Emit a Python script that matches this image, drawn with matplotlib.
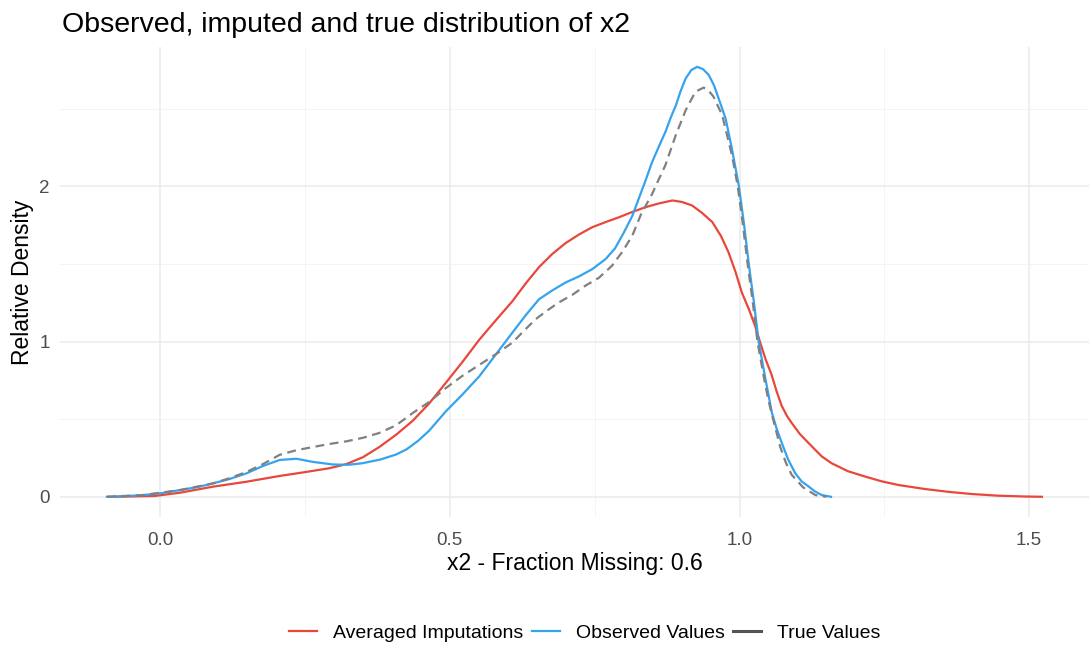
import numpy as np
import matplotlib
matplotlib.use("Agg")
import matplotlib.pyplot as plt
from matplotlib.lines import Line2D

plt.rcParams["font.family"] = ["Liberation Sans", "DejaVu Sans"]

# ── data ────────────────────────────────────────────────
imp_x = [-0.078, -0.01, 0.034, 0.091, 0.149, 0.206, 0.252, 0.292, 0.321, 0.35,
         0.378, 0.407, 0.436, 0.464, 0.493, 0.522, 0.551, 0.58, 0.608, 0.631,
         0.654, 0.677, 0.70, 0.723, 0.746, 0.769, 0.792, 0.815, 0.838, 0.861,
         0.884, 0.90, 0.918, 0.935, 0.953, 0.968, 0.981, 0.993, 1.004, 1.016,
         1.027, 1.036, 1.045, 1.055, 1.064, 1.073, 1.082, 1.09, 1.104, 1.119,
         1.142, 1.159, 1.187, 1.217, 1.245, 1.274, 1.32, 1.36, 1.40, 1.446,
         1.49, 1.522]
imp_y = [0.0, 0.005, 0.026, 0.065, 0.097, 0.134, 0.16, 0.184, 0.21, 0.255,
         0.32, 0.399, 0.49, 0.6, 0.734, 0.87, 1.013, 1.14, 1.26, 1.375,
         1.48, 1.565, 1.635, 1.69, 1.737, 1.77, 1.801, 1.835, 1.866, 1.89,
         1.909, 1.90, 1.877, 1.83, 1.77, 1.68, 1.575, 1.45, 1.316, 1.21,
         1.10, 0.99, 0.886, 0.79, 0.68, 0.585, 0.52, 0.476, 0.405, 0.347,
         0.26, 0.216, 0.165, 0.13, 0.10, 0.076, 0.05, 0.032, 0.018, 0.007,
         0.002, 0.0]

obs_x = [-0.092, -0.06, -0.03, 0.0, 0.034, 0.065, 0.091, 0.12, 0.149, 0.177,
         0.206, 0.235, 0.263, 0.298, 0.325, 0.349, 0.38, 0.407, 0.425, 0.445,
         0.464, 0.493, 0.522, 0.551, 0.58, 0.608, 0.631, 0.654, 0.677, 0.70,
         0.723, 0.746, 0.769, 0.785, 0.80, 0.815, 0.826, 0.838, 0.849, 0.86,
         0.872, 0.881, 0.89, 0.898, 0.907, 0.917, 0.927, 0.937, 0.947, 0.956,
         0.964, 0.976, 0.987, 0.999, 1.008, 1.016, 1.025, 1.033, 1.045, 1.056,
         1.064, 1.073, 1.084, 1.096, 1.107, 1.119, 1.13, 1.142, 1.158]
obs_y = [0.0, 0.004, 0.011, 0.022, 0.043, 0.063, 0.086, 0.115, 0.151, 0.198,
         0.237, 0.245, 0.225, 0.208, 0.206, 0.216, 0.24, 0.272, 0.305, 0.36,
         0.425, 0.55, 0.66, 0.777, 0.92, 1.058, 1.17, 1.273, 1.33, 1.381,
         1.42, 1.467, 1.532, 1.60, 1.70, 1.81, 1.92, 2.04, 2.155, 2.25,
         2.35, 2.44, 2.52, 2.61, 2.695, 2.75, 2.77, 2.755, 2.717, 2.65,
         2.566, 2.437, 2.24, 2.0, 1.75, 1.5, 1.25, 1.0, 0.754, 0.54,
         0.44, 0.347, 0.24, 0.153, 0.10, 0.067, 0.035, 0.011, 0.0]

true_x = [-0.092, -0.03, 0.034, 0.091, 0.12, 0.149, 0.177, 0.206, 0.235, 0.263,
          0.292, 0.321, 0.35, 0.378, 0.407, 0.436, 0.464, 0.493, 0.522, 0.551,
          0.58, 0.608, 0.628, 0.648, 0.668, 0.688, 0.711, 0.734, 0.757, 0.78,
          0.798, 0.815, 0.83, 0.849, 0.86, 0.872, 0.89, 0.907, 0.924, 0.938,
          0.946, 0.955, 0.97, 0.987, 0.997, 1.006, 1.014, 1.023, 1.031, 1.043,
          1.05, 1.058, 1.07, 1.08, 1.09, 1.11, 1.131, 1.15]
true_y = [0.0, 0.011, 0.043, 0.086, 0.12, 0.16, 0.21, 0.27, 0.30, 0.32,
          0.34, 0.357, 0.38, 0.411, 0.46, 0.54, 0.61, 0.70, 0.78, 0.85,
          0.92, 0.993, 1.07, 1.144, 1.20, 1.252, 1.30, 1.36, 1.41, 1.489,
          1.58, 1.683, 1.82, 1.95, 2.04, 2.136, 2.33, 2.49, 2.61, 2.636,
          2.62, 2.578, 2.46, 2.2, 2.0, 1.75, 1.5, 1.25, 1.0, 0.75,
          0.62, 0.5, 0.325, 0.22, 0.142, 0.06, 0.011, 0.0]

series = ["Averaged Imputations", "Observed Values", "True Values"]
x_ticks = [0.0, 0.5, 1.0, 1.5]
y_ticks = [0, 1, 2]

RED, BLUE, GREY = "#E8483B", "#35A3EE", "#808080"

# ── figure ──────────────────────────────────────────────
fig = plt.figure(figsize=(10.91, 6.48), dpi=100)
ax = fig.add_axes([0.055, 0.202, 0.943, 0.726])

ax.plot(imp_x, imp_y, color=RED, lw=1.6, zorder=3)
ax.plot(obs_x, obs_y, color=BLUE, lw=1.6, zorder=3)
ax.plot(true_x, true_y, color=GREY, lw=1.6, dashes=(4, 2.5), zorder=4)

ax.set_xlim(-0.173, 1.603)
ax.set_ylim(-0.131, 2.90)
ax.set_xticks(x_ticks)
ax.set_xticklabels([f"{t:.1f}" for t in x_ticks])
ax.set_yticks(y_ticks)
ax.set_xticks([0.25, 0.75, 1.25], minor=True)
ax.set_yticks([0.5, 1.5, 2.5], minor=True)

ax.grid(True, which="major", color="#ebebeb", lw=1.1)
ax.grid(True, which="minor", color="#f2f2f2", lw=0.6)
ax.set_axisbelow(True)
for s in ax.spines.values():
    s.set_visible(False)
ax.tick_params(which="both", length=0, labelsize=13.5, labelcolor="#4d4d4d")
ax.tick_params(axis="x", pad=11)
ax.tick_params(axis="y", pad=7.5)

ax.set_xlabel("x2 - Fraction Missing: 0.6", fontsize=16.5, labelpad=2)
ax.set_ylabel("Relative Density", fontsize=16.5, labelpad=4)
fig.text(0.057, 0.961, "Observed, imputed and true distribution of x2",
         fontsize=20.5, va="center", ha="left")

handles = [Line2D([], [], color=RED, lw=1.6),
           Line2D([], [], color=BLUE, lw=1.6),
           Line2D([], [], color="#555555", lw=2.2)]
fig.legend(handles, series, loc="center", bbox_to_anchor=(0.536, 0.023),
           ncol=3, frameon=False, fontsize=14, handlelength=1.45,
           columnspacing=0.45, handletextpad=0.8)

fig.savefig("out.png", dpi=100)
